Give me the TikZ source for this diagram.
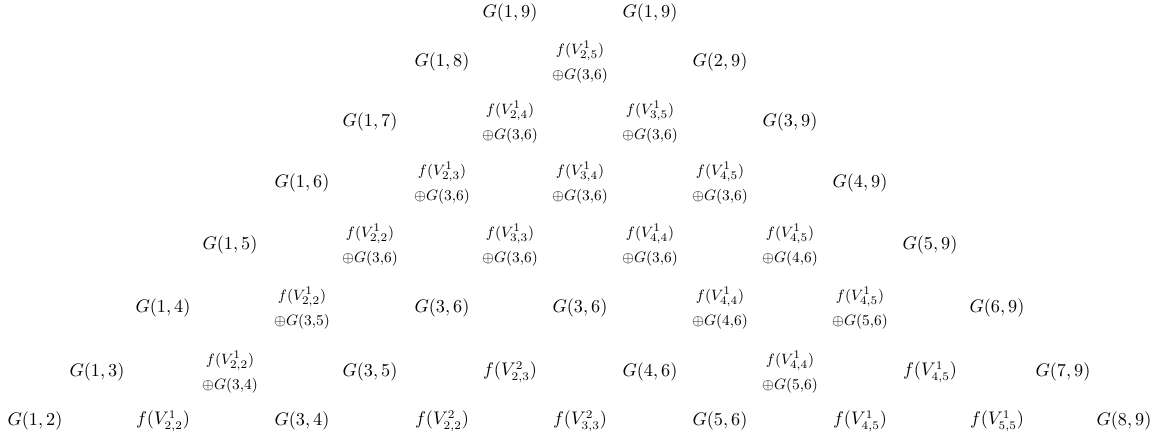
\documentclass[tikz,border=0pt]{standalone}
\begin{document}
\begin{tikzpicture}[x=0.6pt,y=-0.6pt,
  lbl/.style={inner sep=0pt,font=\fontsize{10.5}{12}\selectfont},
  dbl/.style={inner sep=0pt,font=\fontsize{9.3}{11}\selectfont,align=center}]
\useasboundingbox (0,0) rectangle (1160,443);
% row 1
\node[lbl] (r1a) at (35,421) {$G(1,2)$};
\node[lbl] (r1b) at (163,421) {$f(V^1_{2,2})$};
\node[lbl] (r1c) at (302,421) {$G(3,4)$};
\node[lbl] (r1d) at (442,421) {$f(V^2_{2,2})$};
\node[lbl] (r1e) at (580,421) {$f(V^2_{3,3})$};
\node[lbl] (r1f) at (720,421) {$G(5,6)$};
\node[lbl] (r1g) at (860,421) {$f(V^1_{4,5})$};
\node[lbl] (r1h) at (997,421) {$f(V^1_{5,5})$};
\node[lbl] (r1i) at (1124,421) {$G(8,9)$};
% row 2
\node[lbl] (r2a) at (97,372) {$G(1,3)$};
\node[dbl] (r2b) at (230,372) {$f(V^1_{2,2})$\\[4pt]$\oplus G(3{,}4)$};
\node[lbl] (r2c) at (370,372) {$G(3,5)$};
\node[lbl] (r2d) at (510,372) {$f(V^2_{2,3})$};
\node[lbl] (r2e) at (650,372) {$G(4,6)$};
\node[dbl] (r2f) at (790,372) {$f(V^1_{4,4})$\\[4pt]$\oplus G(5{,}6)$};
\node[lbl] (r2g) at (930,372) {$f(V^1_{4,5})$};
\node[lbl] (r2h) at (1063,372) {$G(7,9)$};
% row 3
\node[lbl] (r3a) at (163,308) {$G(1,4)$};
\node[dbl] (r3b) at (302,308) {$f(V^1_{2,2})$\\[4pt]$\oplus G(3{,}5)$};
\node[lbl] (r3c) at (442,308) {$G(3,6)$};
\node[lbl] (r3d) at (580,308) {$G(3,6)$};
\node[dbl] (r3e) at (720,308) {$f(V^1_{4,4})$\\[4pt]$\oplus G(4{,}6)$};
\node[dbl] (r3f) at (860,308) {$f(V^1_{4,5})$\\[4pt]$\oplus G(5{,}6)$};
\node[lbl] (r3g) at (997,308) {$G(6,9)$};
% row 4
\node[lbl] (r4a) at (230,245) {$G(1,5)$};
\node[dbl] (r4b) at (370,245) {$f(V^1_{2,2})$\\[4pt]$\oplus G(3{,}6)$};
\node[dbl] (r4c) at (510,245) {$f(V^1_{3,3})$\\[4pt]$\oplus G(3{,}6)$};
\node[dbl] (r4d) at (650,245) {$f(V^1_{4,4})$\\[4pt]$\oplus G(3{,}6)$};
\node[dbl] (r4e) at (790,245) {$f(V^1_{4,5})$\\[4pt]$\oplus G(4{,}6)$};
\node[lbl] (r4f) at (930,245) {$G(5,9)$};
% row 5
\node[lbl] (r5a) at (302,183) {$G(1,6)$};
\node[dbl] (r5b) at (442,183) {$f(V^1_{2,3})$\\[4pt]$\oplus G(3{,}6)$};
\node[dbl] (r5c) at (580,183) {$f(V^1_{3,4})$\\[4pt]$\oplus G(3{,}6)$};
\node[dbl] (r5d) at (720,183) {$f(V^1_{4,5})$\\[4pt]$\oplus G(3{,}6)$};
\node[lbl] (r5e) at (860,183) {$G(4,9)$};
% row 6
\node[lbl] (r6a) at (370,122) {$G(1,7)$};
\node[dbl] (r6b) at (510,122) {$f(V^1_{2,4})$\\[4pt]$\oplus G(3{,}6)$};
\node[dbl] (r6c) at (650,122) {$f(V^1_{3,5})$\\[4pt]$\oplus G(3{,}6)$};
\node[lbl] (r6d) at (790,122) {$G(3,9)$};
% row 7
\node[lbl] (r7a) at (442,62) {$G(1,8)$};
\node[dbl] (r7b) at (580,62) {$f(V^1_{2,5})$\\[4pt]$\oplus G(3{,}6)$};
\node[lbl] (r7c) at (720,62) {$G(2,9)$};
% row 8
\node[lbl] (r8a) at (510,13) {$G(1,9)$};
\node[lbl] (r8b) at (650,13) {$G(1,9)$};
\end{tikzpicture}
\end{document}
